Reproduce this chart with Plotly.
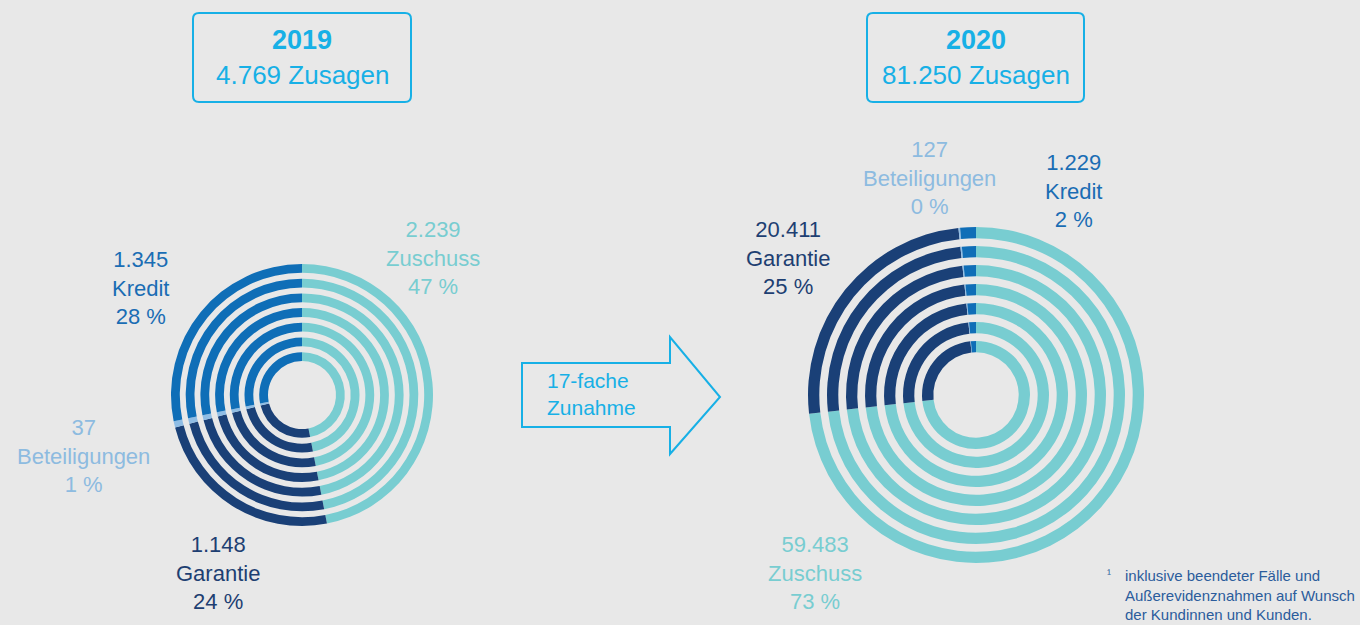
import plotly.graph_objects as go

W, H = 1360, 625

# ---- data ----
categories = ["Zuschuss", "Garantie", "Beteiligungen", "Kredit"]
values_2019 = [2239, 1148, 37, 1345]
values_2020 = [59483, 20411, 127, 1229]
pct_2019 = ["47 %", "24 %", "1 %", "28 %"]
pct_2020 = ["73 %", "25 %", "0 %", "2 %"]
value_labels_2019 = ["2.239", "1.148", "37", "1.345"]
value_labels_2020 = ["59.483", "20.411", "127", "1.229"]
titles = ["2019", "2020"]
subtitles = ["4.769 Zusagen", "81.250 Zusagen"]
arrow_text = ["17-fache", "Zunahme"]
footnote_lines = ["inklusive beendeter Fälle und", "Außerevidenznahmen auf Wunsch", "der Kundinnen und Kunden."]

# ---- styles ----
BG = "#E8E8E8"
CYAN = "#17B0E6"
COLORS = {"Zuschuss": "#78CDD1", "Garantie": "#1A4077", "Beteiligungen": "#8FBDE5", "Kredit": "#0F6EB7"}
LABEL_COLORS = {"Zuschuss": "#78CDD1", "Garantie": "#1E3F72", "Beteiligungen": "#8DBBE0", "Kredit": "#1A6DB4"}
FONT = "Liberation Sans, Arial, sans-serif"
N_RINGS = 7


def px(x):
    return x / W


def py(y):
    return 1 - y / H


fig = go.Figure()


def add_rings(values, cx, cy, r_out, pitch, thick):
    for i in range(N_RINGS):
        r = r_out - i * pitch
        fig.add_trace(go.Pie(
            labels=categories, values=values,
            sort=False, direction="clockwise", rotation=0,
            hole=(r - thick) / r,
            marker=dict(colors=[COLORS[c] for c in categories], line=dict(width=0)),
            textinfo="none", showlegend=False, hoverinfo="label+value+percent",
            domain=dict(x=[px(cx - r), px(cx + r)], y=[py(cy + r), py(cy - r)]),
        ))


add_rings(values_2019, 302, 395, 131, 14.7, 8.8)
add_rings(values_2020, 976, 395, 168, 19.0, 11.3)

annotations = []


def label(x, y, lines, color, size=22, xanchor="center", align="center"):
    annotations.append(dict(
        x=px(x), y=py(y), xref="paper", yref="paper", showarrow=False,
        text="<br>".join(lines), xanchor=xanchor, yanchor="middle", align=align,
        font=dict(family=FONT, size=size, color=color),
    ))


# category labels
pos_2019 = {"Zuschuss": (433, 258), "Garantie": (218, 573), "Beteiligungen": (83, 456), "Kredit": (140, 288)}
pos_2020 = {"Zuschuss": (815, 573), "Garantie": (788, 258), "Beteiligungen": (929, 178), "Kredit": (1073, 191)}
for i, c in enumerate(categories):
    x, y = pos_2019[c]
    label(x, y, [value_labels_2019[i], c, pct_2019[i]], LABEL_COLORS[c])
    x, y = pos_2020[c]
    label(x, y, [value_labels_2020[i], c, pct_2020[i]], LABEL_COLORS[c])

# title boxes
for cx, t, s in [(302, titles[0], subtitles[0]), (976, titles[1], subtitles[1])]:
    label(cx, 40, ["<b>" + t + "</b>"], CYAN, size=27)
    label(cx, 75, [s], CYAN, size=26)

# arrow text
label(545, 394, arrow_text, CYAN, size=21, xanchor="left", align="left")

# footnote
label(1109, 574, ["¹"], "#2B5C9C", size=12)
label(1123, 595, footnote_lines, "#2B5C9C", size=15, xanchor="left", align="left")

shapes = []


def rounded_box(x0, y0, x1, y1, rad):
    p = (f"M {px(x0 + rad)},{py(y0)} L {px(x1 - rad)},{py(y0)} Q {px(x1)},{py(y0)} {px(x1)},{py(y0 + rad)} "
         f"L {px(x1)},{py(y1 - rad)} Q {px(x1)},{py(y1)} {px(x1 - rad)},{py(y1)} "
         f"L {px(x0 + rad)},{py(y1)} Q {px(x0)},{py(y1)} {px(x0)},{py(y1 - rad)} "
         f"L {px(x0)},{py(y0 + rad)} Q {px(x0)},{py(y0)} {px(x0 + rad)},{py(y0)} Z")
    shapes.append(dict(type="path", path=p, xref="paper", yref="paper",
                       line=dict(color=CYAN, width=2), fillcolor="rgba(0,0,0,0)"))


rounded_box(193, 13, 411, 102, 6)
rounded_box(867, 13, 1084, 102, 6)

arrow_pts = [(522, 363), (670, 363), (670, 337), (720, 397), (670, 454), (670, 427), (522, 427)]
ap = "M " + " L ".join(f"{px(x)},{py(y)}" for x, y in arrow_pts) + " Z"
shapes.append(dict(type="path", path=ap, xref="paper", yref="paper",
                   line=dict(color=CYAN, width=2), fillcolor="rgba(0,0,0,0)"))

fig.update_layout(
    width=W, height=H, margin=dict(l=0, r=0, t=0, b=0),
    paper_bgcolor=BG, plot_bgcolor=BG,
    annotations=annotations, shapes=shapes, showlegend=False,
)

fig.write_html("out.html", config={"displayModeBar": False})
